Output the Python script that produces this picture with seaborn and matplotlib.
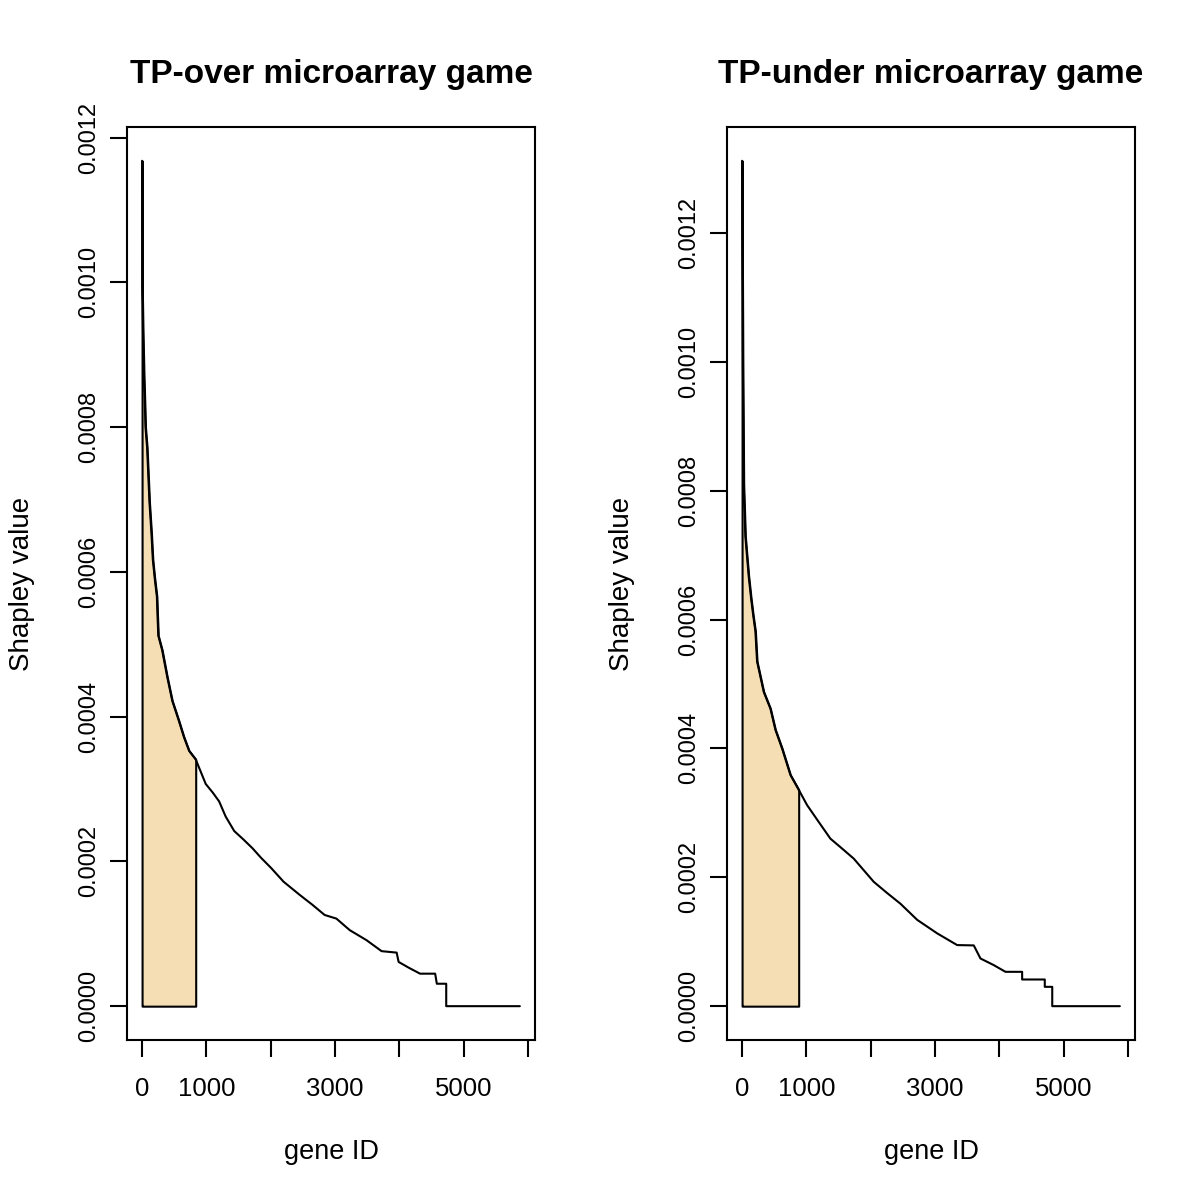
import numpy as np
import pandas as pd
import seaborn as sns
import matplotlib.pyplot as plt
from matplotlib.ticker import FormatStrFormatter

# Shapley values, genes ranked by value
over_gene = [0, 3, 15, 30, 45, 53, 78, 115, 146, 167, 198, 230, 240, 252, 312,
             391, 469, 573, 650, 730, 834, 990, 1100, 1198, 1300, 1433, 1580,
             1719, 1850, 2006, 2200, 2448, 2650, 2839, 3022, 3230, 3490, 3725,
             3959, 3990, 4150, 4323, 4558, 4584, 4730, 4730, 5875]
over_value = [0.001168, 0.000994, 0.000930, 0.000870, 0.000826, 0.000800,
              0.000772, 0.000696, 0.000653, 0.000617, 0.000590, 0.000566,
              0.000540, 0.000512, 0.000492, 0.000455, 0.000422, 0.000394,
              0.000372, 0.000353, 0.000341, 0.000307, 0.000295, 0.000283,
              0.000262, 0.000242, 0.000230, 0.000218, 0.000205, 0.000191,
              0.000172, 0.000154, 0.000140, 0.000126, 0.000121, 0.000105,
              0.0000912, 0.0000760, 0.0000740, 0.0000611, 0.0000530,
              0.0000449, 0.0000449, 0.0000310, 0.0000310, 0.0, 0.0]

under_gene = [0, 3, 12, 25, 51, 103, 140, 171, 207, 233, 336, 440, 518, 622,
              751, 880, 1011, 1191, 1373, 1550, 1736, 1900, 2047, 2250, 2462,
              2722, 3033, 3344, 3602, 3706, 3913, 4095, 4354, 4354, 4706, 4706,
              4822, 4822, 5873]
under_value = [0.001312, 0.001201, 0.001000, 0.000810, 0.000729, 0.000667,
               0.000633, 0.000608, 0.000582, 0.000535, 0.000488, 0.000462,
               0.000429, 0.000400, 0.000359, 0.000336, 0.000312, 0.000286,
               0.000260, 0.000245, 0.000229, 0.000210, 0.000193, 0.000176,
               0.000159, 0.000134, 0.000113, 0.0000948, 0.0000943, 0.0000740,
               0.0000637, 0.0000533, 0.0000533, 0.0000414, 0.0000414,
               0.0000300, 0.0000300, 0.0, 0.0]

over_cut = 834
under_cut = 880

titles = ["TP-over microarray game", "TP-under microarray game"]
x_ticks = [0, 1000, 2000, 3000, 4000, 5000, 6000]
x_labels = ["0", "1000", "", "3000", "", "5000", ""]
y_ticks = [0.0, 0.0002, 0.0004, 0.0006, 0.0008, 0.0010, 0.0012]

sns.set_theme(style="white")
plt.rcParams["font.family"] = ["Liberation Sans", "DejaVu Sans"]
plt.rcParams["text.color"] = "black"

fig = plt.figure(figsize=(12, 11.98), dpi=100)
panels = [
    (fig.add_axes([0.1058, 0.1319, 0.34, 0.7621]), over_gene, over_value, over_cut, titles[0]),
    (fig.add_axes([0.6058, 0.1319, 0.34, 0.7621]), under_gene, under_value, under_cut, titles[1]),
]

for ax, genes, vals, cut, title in panels:
    df = pd.DataFrame({"gene": genes, "value": vals})

    # shaded part: top genes up to the cut-off
    g = np.array(genes)
    v = np.array(vals)
    keep = g < cut
    fx = np.append(g[keep], cut)
    fy = np.append(v[keep], np.interp(cut, g, v))
    ax.fill_between(fx, fy, facecolor="wheat", edgecolor="black",
                    linewidth=1.5, zorder=2)

    sns.lineplot(data=df, x="gene", y="value", estimator=None, sort=False,
                 color="black", linewidth=1.5, ax=ax, zorder=3)

    ax.margins(x=0.04, y=0.04)
    ax.set_xticks(x_ticks)
    ax.set_xticklabels(x_labels)
    ax.set_yticks(y_ticks)
    ax.yaxis.set_major_formatter(FormatStrFormatter("%.4f"))
    for lab in ax.get_yticklabels():
        lab.set_rotation(90)
        lab.set_va("center")

    ax.tick_params(axis="both", direction="out", length=12, width=1.5,
                   color="black", labelcolor="black", bottom=True, left=True)
    ax.tick_params(axis="y", labelsize=17, pad=7)
    ax.tick_params(axis="x", labelsize=18.5, pad=15)
    for sp in ax.spines.values():
        sp.set_visible(True)
        sp.set_color("black")
        sp.set_linewidth(1.5)

    ax.set_title(title, fontsize=24, fontweight="bold", pad=32)
    ax.set_xlabel("gene ID", fontsize=19.5, color="black")
    ax.set_ylabel("Shapley value", fontsize=20, color="black")
    ax.xaxis.set_label_coords(0.5, -0.108)
    ax.xaxis.label.set_va("top")
    ax.yaxis.set_label_coords(-0.2255, 0.5)

fig.savefig("out.png", dpi=100, facecolor="white")
